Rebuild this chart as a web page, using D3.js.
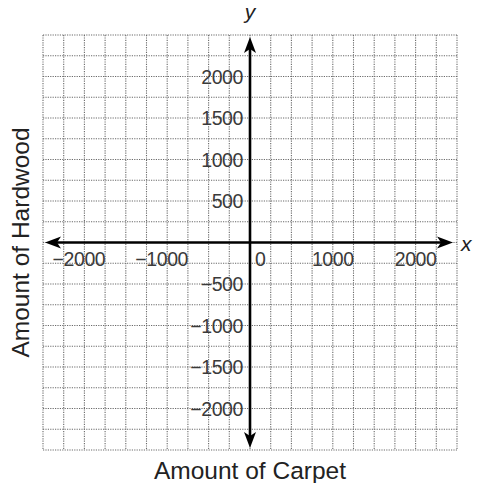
<!DOCTYPE html>
<html><head><meta charset="utf-8">
<script src="https://cdn.jsdelivr.net/npm/d3@7"></script>
<style>html,body{margin:0;padding:0;background:#fff}</style>
</head><body>
<svg id="c" width="477" height="483"></svg>
<script>
const xDomain = [-2500, 2500];
const yDomain = [-2500, 2500];
const gridStep = 250;
const xTicks = [-2000, -1000, 0, 1000, 2000];
const yTicks = [-2000, -1500, -1000, -500, 500, 1000, 1500, 2000];
const xTitle = "Amount of Carpet";
const yTitle = "Amount of Hardwood";

const svg = d3.select("#c");
const x = d3.scaleLinear().domain(xDomain).range([43, 457]);
const y = d3.scaleLinear().domain(yDomain).range([450, 35]);
const font = "'Liberation Sans', Arial, Helvetica, sans-serif";

const gridVals = d3.range(xDomain[0], xDomain[1] + 1, gridStep);
const g = svg.append("g").attr("stroke", "#6a6a6a").attr("stroke-width", 1.1).attr("stroke-dasharray", "1.2,1.2").attr("fill", "none");
g.selectAll("line.v").data(gridVals).join("line").attr("class", "v")
  .attr("x1", d => x(d)).attr("x2", d => x(d)).attr("y1", y(yDomain[1])).attr("y2", y(yDomain[0]));
g.selectAll("line.h").data(gridVals).join("line").attr("class", "h")
  .attr("y1", d => y(d)).attr("y2", d => y(d)).attr("x1", x(xDomain[0])).attr("x2", x(xDomain[1]));

// labels
const lab = svg.append("g").attr("font-family", font).attr("font-size", 19.5).attr("fill", "#3a3a3a").attr("letter-spacing", "-0.4");
xTicks.forEach(v => {
  const t = lab.append("text").attr("y", y(0) + 23);
  if (v === 0) {
    t.attr("x", x(0) + 5).attr("text-anchor", "start").text("0");
  } else {
    t.text(String(Math.abs(v)));
    const w = t.node().getComputedTextLength();
    t.attr("x", x(v) + w / 2).attr("text-anchor", "end").text((v < 0 ? "\u2212" : "") + Math.abs(v));
  }
});
yTicks.forEach(v => {
  lab.append("text").attr("x", x(0) - 7).attr("y", y(v) + 7).attr("text-anchor", "end")
    .text((v < 0 ? "\u2212" : "") + Math.abs(v));
});

// axes with arrows
function arrowHead(tx, ty, dx, dy) {
  const L = 16, W = 6, N = 4;
  const px = -dy, py = dx;
  const bx = tx - dx * L, by = ty - dy * L;
  const nx = tx - dx * (L - N), ny = ty - dy * (L - N);
  return `M${tx},${ty} L${bx + px * W},${by + py * W} L${nx},${ny} L${bx - px * W},${by - py * W} Z`;
}
const ax = svg.append("g");
const xl = x(xDomain[0]) + 2, xr = x(xDomain[1]) - 4, yt = y(yDomain[1]) + 2, yb = y(yDomain[0]) - 2;
ax.append("line").attr("x1", xl + 6).attr("x2", xr - 6).attr("y1", y(0)).attr("y2", y(0)).attr("stroke", "#000").attr("stroke-width", 2.6);
ax.append("line").attr("y1", yt + 6).attr("y2", yb - 6).attr("x1", x(0)).attr("x2", x(0)).attr("stroke", "#000").attr("stroke-width", 2.6);
ax.append("path").attr("d", arrowHead(xl, y(0), -1, 0)).attr("fill", "#000");
ax.append("path").attr("d", arrowHead(xr, y(0), 1, 0)).attr("fill", "#000");
ax.append("path").attr("d", arrowHead(x(0), yt, 0, -1)).attr("fill", "#000");
ax.append("path").attr("d", arrowHead(x(0), yb, 0, 1)).attr("fill", "#000");

// axis letters
svg.append("text").attr("x", x(0)).attr("y", 19).attr("text-anchor", "middle").attr("font-family", font)
  .attr("font-style", "italic").attr("font-size", 21).attr("fill", "#222").text("y");
svg.append("text").attr("x", x(xDomain[1]) + 4).attr("y", y(0) + 8).attr("text-anchor", "start").attr("font-family", font)
  .attr("font-style", "italic").attr("font-size", 21).attr("fill", "#222").text("x");

// titles
svg.append("text").attr("x", x(0)).attr("y", 479).attr("text-anchor", "middle").attr("font-family", font)
  .attr("font-size", 24.5).attr("fill", "#222").text(xTitle);
svg.append("text").attr("transform", `translate(29,${y(0)}) rotate(-90)`).attr("text-anchor", "middle").attr("font-family", font)
  .attr("font-size", 24.5).attr("fill", "#222").text(yTitle);
</script>
</body></html>
